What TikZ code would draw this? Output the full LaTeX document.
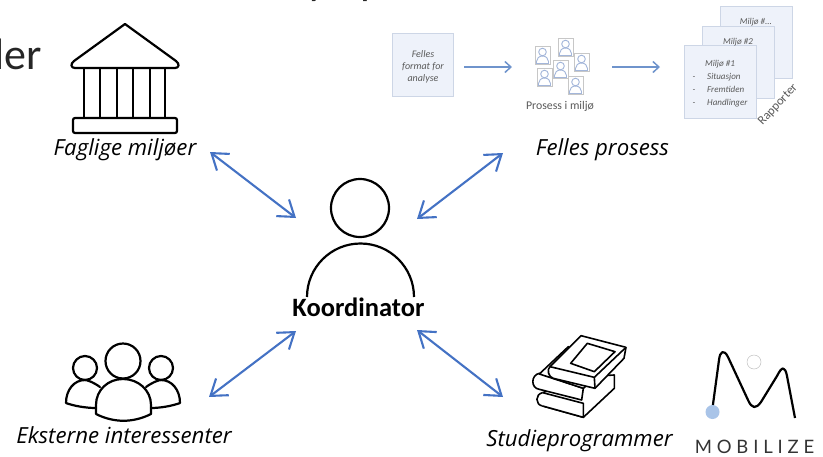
\documentclass[tikz,border=0pt]{standalone}
\usepackage{fontspec}
\setmainfont{Carlito}
\newfontfamily\capfont{Open Sans}
\newfontfamily\logofont[LetterSpace=26]{Lato}
\usetikzlibrary{arrows.meta}
\definecolor{arrowblue}{HTML}{4472C4}
\definecolor{softblue}{HTML}{6F94CC}
\definecolor{cardfill}{HTML}{EEF2FA}
\definecolor{cardline}{HTML}{CDD6E6}
\definecolor{iconblue}{HTML}{A3B6DA}
\definecolor{softtext}{HTML}{595959}
\definecolor{dotblue}{HTML}{A9C4E8}
\tikzset{
  link/.style={draw=arrowblue,line width=2.1pt,{Straight Barb[length=15pt,width=21pt,line width=2.1pt]}-{Straight Barb[length=15pt,width=21pt,line width=2.1pt]}},
  flow/.style={draw=softblue,line width=1.5pt,-{Straight Barb[length=6pt,width=11pt,line width=1.5pt]}},
  ink/.style={draw=black,line width=2.2pt,line join=round,line cap=round},
  bookline/.style={draw=black,line width=1.6pt,line join=round,fill=white},
  card/.style={draw=cardline,line width=.9pt,fill=cardfill},
  bigcap/.style={font=\fontsize{22.2}{24}\capfont\itshape,anchor=base,text=black,inner sep=0pt},
  tiny/.style={font=\fontsize{10}{12}\selectfont\itshape,text=softtext,inner sep=0pt,anchor=base},
  rep/.style={font=\fontsize{9}{11}\selectfont\itshape,text=softtext,inner sep=0pt,anchor=base},
  repl/.style={rep,anchor=base west},
}
\newcommand{\personbox}[2]{%
  \begin{scope}[shift={(#1,#2)}]
    \fill[white] (0,0) rectangle (15,18.5);
    \draw[draw=black!22,line width=.6pt] (0,0) rectangle (15,18.5);
    \draw[iconblue,line width=.9pt] (7.5,6) circle (3.8);
    \draw[iconblue,line width=.9pt] (1.5,17.5) -- (1.5,15.5) arc (180:360:6 and 5.5) -- (13.5,17.5) -- cycle;
  \end{scope}}
\begin{document}
\begin{tikzpicture}[x=1pt,y=-1pt]
\useasboundingbox (0,0) rectangle (823,456);
\begin{scope}
  \clip (0,0) rectangle (823,456);
  \node[anchor=base west,inner sep=0pt,font=\fontsize{44}{46}\selectfont,text=black!85] (leftword) at (-6,69) {ler};
  \node[anchor=base west,inner sep=0pt,font=\fontsize{44}{46}\selectfont,text=black!85] (topword) at (307,-6) {y\hspace{33pt}p};
\end{scope}

% temple
\draw[ink] (125,24) -- (74,61) .. controls (70,64) and (71,68) .. (75,68) -- (175,68) .. controls (179,68) and (180,64) .. (176,61) -- cycle;
\foreach \cx in {84,100,117,133,150,165} \draw[ink,line cap=butt] (\cx,68) -- (\cx,118);
\draw[ink,rounded corners=2pt] (73,118) rectangle (177,133);
\node[bigcap] (faglige) at (125,155) {Faglige miljøer};

% process cards
\node[card,minimum width=61pt,minimum height=63pt,inner sep=0pt] (format) at (422.5,64.5) {};
\node[tiny] (f1) at (423,57) {Felles};
\node[tiny] (f2) at (423,69) {format for};
\node[tiny] (f3) at (423,81) {analyse};
\personbox{535}{46}
\personbox{558}{38}
\personbox{574}{53}
\personbox{553}{60}
\personbox{537}{68}
\personbox{568}{76}
\node[inner sep=0pt,font=\fontsize{11.8}{14}\selectfont,text=softtext] (prosess) at (560,106.5) {Prosess i miljø};
\coordinate (a1) at (464,67); \coordinate (a2) at (512,67);
\coordinate (b1) at (612,67); \coordinate (b2) at (660,67);
\draw[flow] (a1) -- (a2);
\draw[flow] (b1) -- (b2);
\node[card,minimum width=71.5pt,minimum height=71.5pt,inner sep=0pt] (r3) at (756.2,42.2) {};
\node[card,minimum width=72pt,minimum height=72pt,inner sep=0pt] (r2) at (738,62) {};
\node[card,minimum width=72.5pt,minimum height=72.5pt,inner sep=0pt] (r1) at (720.5,82) {};
\node[rep] (m3) at (756,24.5) {Miljø \#...};
\node[rep] (m2) at (738,44.5) {Miljø \#2};
\node[rep] (m1) at (720,66.5) {Miljø \#1};
\node[rep] (d1) at (694,79.5) {-};
\node[rep] (d2) at (694,92.5) {-};
\node[rep] (d3) at (694,105.5) {-};
\node[repl] (s1) at (707,79.5) {Situasjon};
\node[repl] (s2) at (707,92.5) {Fremtiden};
\node[repl] (s3) at (707,105.5) {Handlinger};
\node[inner sep=0pt,rotate=47,font=\fontsize{12.5}{14}\selectfont,text=softtext] (rapp) at (778,105) {Rapporter};
\node[bigcap] (felles) at (602.5,155) {Felles prosess};

% coordinator
\node[circle,draw=black,line width=2.2pt,minimum size=58pt,inner sep=0pt] (headc) at (360,208) {};
\draw[black,line width=2.2pt] (307,297) arc (180:360:53.5);
\node[inner sep=0pt,anchor=base,font=\fontsize{26.5}{28}\selectfont\bfseries] (koord) at (358.5,316) {Koordinator};

% connectors
\coordinate (k1) at (296,218); \coordinate (k2) at (417,219);
\coordinate (k3) at (296,331); \coordinate (k4) at (417,330);
\coordinate (t1) at (210,152); \coordinate (t2) at (503,153);
\coordinate (t3) at (209,397); \coordinate (t4) at (503,397);
\draw[link] (t1) -- (k1);
\draw[link] (t2) -- (k2);
\draw[link] (t3) -- (k3);
\draw[link] (t4) -- (k4);

% group of people
\draw[ink] (85,368) circle (12);
\draw[ink] (161,368) circle (12);
\draw[ink] (100,387) .. controls (93,382) and (87,380) .. (85,380) .. controls (74,380) and (66,390) .. (66,403) .. controls (74,406) and (86,408) .. (96,408);
\draw[ink] (146,387) .. controls (153,382) and (159,380) .. (161,380) .. controls (172,380) and (180,390) .. (180,403) .. controls (172,406) and (160,408) .. (151,408);
\draw[ink] (123,361) circle (17.5);
\draw[ink] (96,414) -- (96,405) .. controls (96,390) and (108,379) .. (123,379) .. controls (138,379) and (151,390) .. (151,405) -- (151,414) .. controls (133,423) and (114,423) .. (96,414);
\node[bigcap] (ekst) at (124,443) {Eksterne interessenter};

% books
\begin{scope}[shift={(500,320)},x=.3333pt,y=-.3333pt]
  \draw[bookline] (128,218) .. controls (105,222) and (105,255) .. (128,258) -- (250,292) -- (343,205) -- (343,165) -- (260,170) -- cycle;
  \draw[bookline] (128,258) -- (250,292) -- (250,250) -- (128,218);
  \draw[bookline] (118,160) .. controls (92,165) and (92,205) .. (118,208) -- (245,240) -- (250,205) -- cycle;
  \draw[bookline] (205,80) -- (118,162) -- (250,205) -- (285,175) -- cycle;
  \draw[bookline] (243,47) -- (378,82) -- (372,115) -- (285,205) -- (160,175) .. controls (145,172) and (140,148) .. (150,140) -- cycle;
  \draw[bookline] (150,140) -- (283,172) -- (378,82);
  \draw[bookline] (283,172) -- (285,205);
  \draw[bookline] (262,70) -- (345,95) -- (283,155) -- (212,130) -- cycle;
\end{scope}
\node[bigcap] (studie) at (579.5,446) {Studieprogrammer};

% logo
\draw[black,line width=2.2pt,line join=round] (712.5,408) -- (719,360) .. controls (720,351) and (724,349) .. (728,357) -- (748,400) .. controls (752,409) and (756,409) .. (761,402) -- (777,376) .. controls (782,366) and (785,366) .. (787,376) -- (795,418);
\fill[dotblue] (712.5,412) circle (7);
\draw[black!25,line width=.5pt] (754,362) circle (7);
\node[inner sep=0pt,anchor=base,font=\fontsize{18.5}{20}\logofont,text=black!80] (mobilize) at (754.5,453) {MOBILIZE};
\end{tikzpicture}
\end{document}
